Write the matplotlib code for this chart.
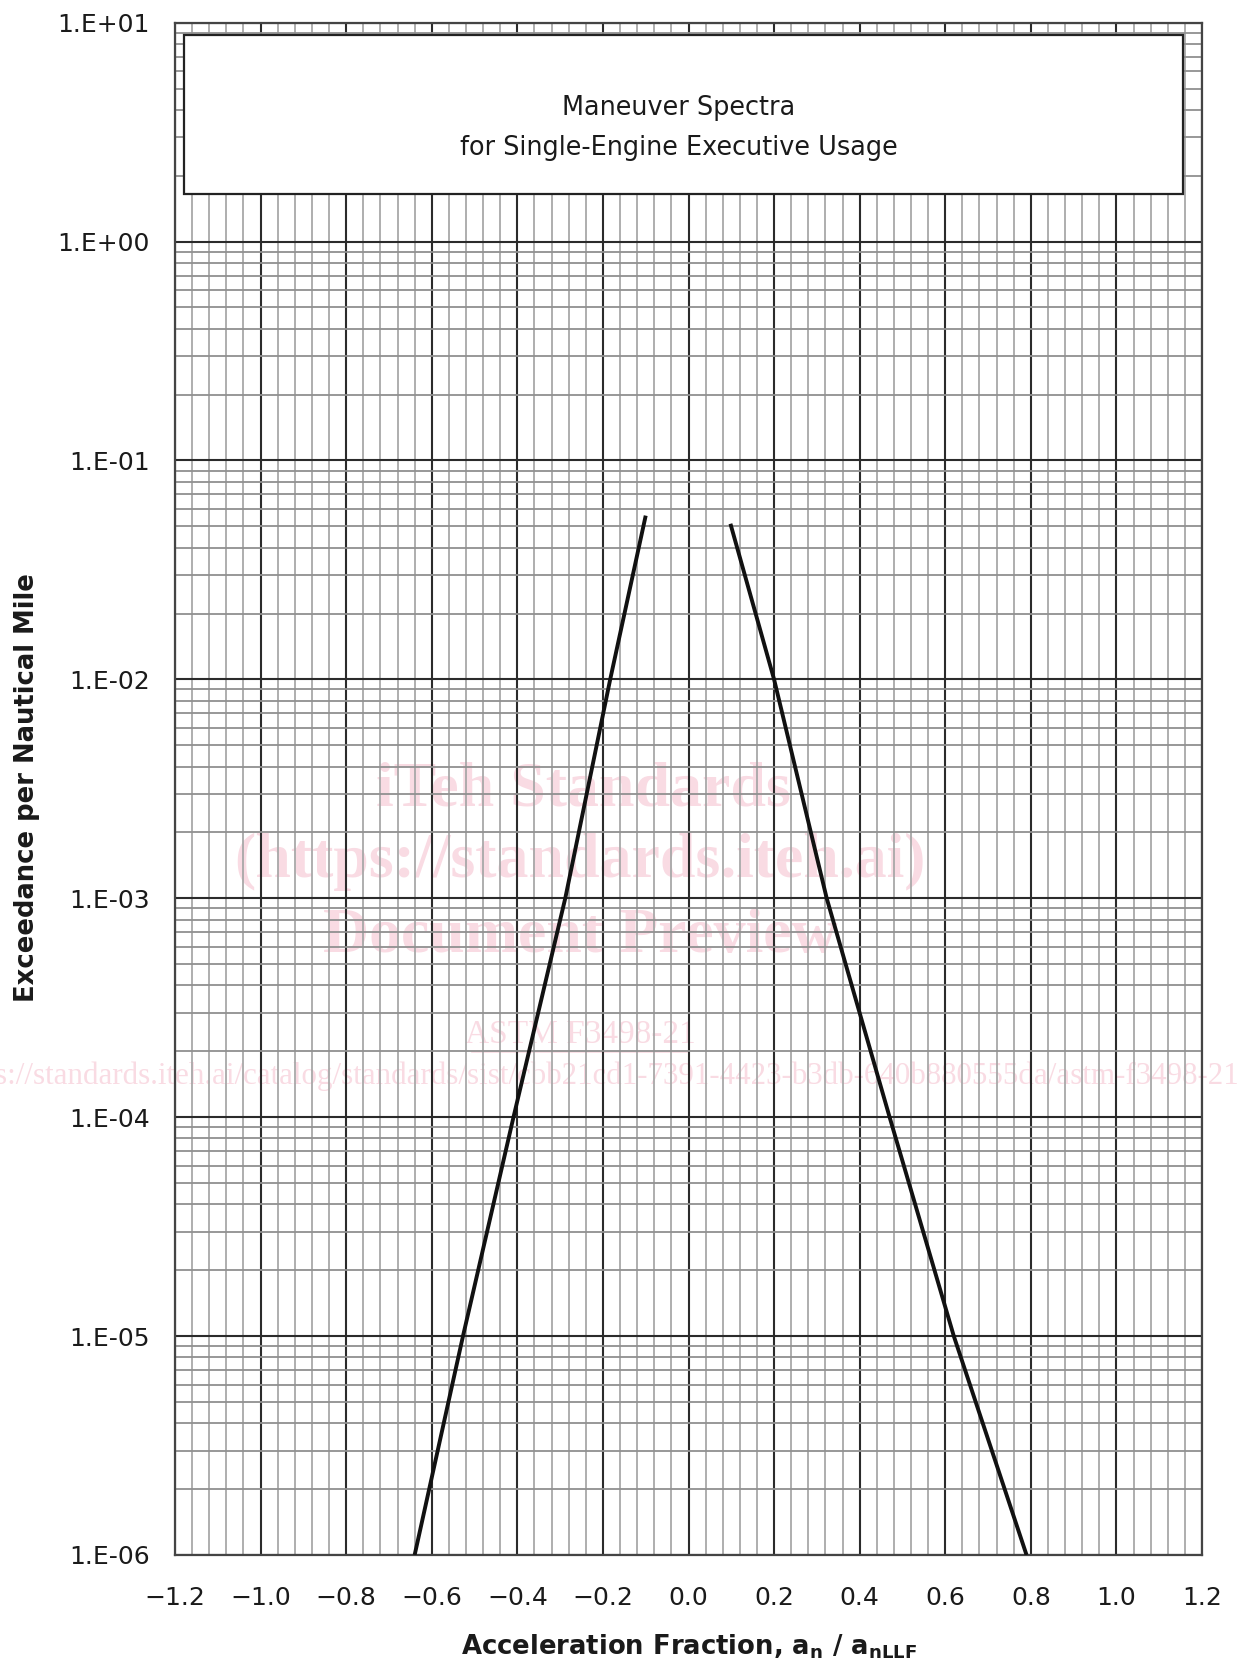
import matplotlib
matplotlib.use("Agg")
import matplotlib.pyplot as plt
from matplotlib.patches import Rectangle
from matplotlib.ticker import FixedLocator, FixedFormatter, MultipleLocator, LogLocator
import numpy as np

plt.rcParams['font.family'] = ['DejaVu Sans']
plt.rcParams['mathtext.default'] = 'bf'

# ---- data ----
left_x = [-0.64, -0.527, -0.409, -0.288, -0.183, -0.10]
left_y = [1e-6, 1e-5, 1e-4, 1e-3, 1e-2, 0.056]
right_x = [0.098, 0.20, 0.323, 0.470, 0.62, 0.79]
right_y = [0.0514, 1e-2, 1e-3, 1e-4, 1e-5, 1e-6]

x_ticks = [-1.2, -1.0, -0.8, -0.6, -0.4, -0.2, 0.0, 0.2, 0.4, 0.6, 0.8, 1.0, 1.2]
y_ticks = [1e-6, 1e-5, 1e-4, 1e-3, 1e-2, 1e-1, 1e0, 1e1]
y_tick_labels = ["1.E-06", "1.E-05", "1.E-04", "1.E-03", "1.E-02", "1.E-01", "1.E+00", "1.E+01"]

title_lines = ["Maneuver Spectra", "for Single-Engine Executive Usage"]
x_label = r"Acceleration Fraction, $\mathbf{a_n}$ / $\mathbf{a_{nLLF}}$"
y_label = "Exceedance per Nautical Mile"

wm_lines = ["iTeh Standards", "(https://standards.iteh.ai)", "Document Preview"]
wm_std = "ASTM F3498-21"
wm_url = "https://standards.iteh.ai/catalog/standards/sist/cbb21cd1-7391-4423-b3db-640b880555da/astm-f3498-21"

W, H = 1237, 1669
fig = plt.figure(figsize=(W / 100, H / 100), dpi=100)
ax = fig.add_axes([175 / W, 1 - 1555 / H, (1202 - 175) / W, (1555 - 22.7) / H])

ax.set_yscale('log')
ax.set_xlim(-1.2, 1.2)
ax.set_ylim(1e-6, 10)

ax.xaxis.set_major_locator(FixedLocator(x_ticks))
ax.xaxis.set_minor_locator(MultipleLocator(0.04))
ax.yaxis.set_major_locator(FixedLocator(y_ticks))
ax.yaxis.set_major_formatter(FixedFormatter(y_tick_labels))
ax.yaxis.set_minor_locator(LogLocator(base=10, subs=np.arange(2, 10), numticks=20))
ax.yaxis.set_minor_formatter(FixedFormatter([]))
ax.xaxis.set_major_formatter(plt.FuncFormatter(lambda v, p: f"{v:.1f}".replace("-", "\u2212")))

ax.set_axisbelow(True)
ax.grid(which='major', color='#2b2b2b', linewidth=1.5)
ax.grid(which='minor', axis='x', color='#a8a8a8', linewidth=1.3)
ax.grid(which='minor', axis='y', color='#909090', linewidth=1.3)

ax.tick_params(which='both', length=0)
ax.tick_params(axis='y', which='major', labelsize=18, pad=18, colors='#1a1a1a')
ax.tick_params(axis='x', which='major', labelsize=18, pad=22, colors='#1a1a1a')
for s in ax.spines.values():
    s.set_color('#444444')
    s.set_linewidth(1.6)

ax.plot(left_x, left_y, color='#111111', linewidth=2.8, solid_capstyle='butt', zorder=3)
ax.plot(right_x, right_y, color='#111111', linewidth=2.8, solid_capstyle='butt', zorder=3)

# title box
bx0, bx1 = (184.3 - 175) / 1027, (1183 - 175) / 1027
by0, by1 = 1 - (194.3 - 22.7) / 1532, 1 - (35 - 22.7) / 1532
ax.add_patch(Rectangle((bx0, by0), bx1 - bx0, by1 - by0, transform=ax.transAxes,
                       facecolor='white', edgecolor='#222222', linewidth=1.6, zorder=4))
ax.text(0.4907, 1 - (108 - 22.7) / 1532, title_lines[0], transform=ax.transAxes,
        ha='center', va='center', fontsize=18.4, color='#1a1a1a', zorder=5)
ax.text(0.4907, 1 - (148 - 22.7) / 1532, title_lines[1], transform=ax.transAxes,
        ha='center', va='center', fontsize=18.4, color='#1a1a1a', zorder=5)

fig.text(689 / W, 1 - 1647 / H, x_label, ha='center', va='center', fontsize=18.6,
         fontweight='bold', color='#1a1a1a')
fig.text(27 / W, 1 - 788 / H, y_label, ha='center', va='center', rotation=90,
         fontsize=18.6, fontweight='bold', color='#1a1a1a')

# watermark (behind grid)
pink = '#f9dbe3'
wm_y = [790, 862, 937]
wm_x = [583, 580, 580]
for t, xx, yy in zip(wm_lines, wm_x, wm_y):
    ax.text(xx / W, 1 - yy / H, t, transform=fig.transFigure, ha='center', va='center',
            fontsize=46, fontweight='bold', family='Liberation Serif', color=pink,
            zorder=0.3, clip_on=False)
ax.text(580 / W, 1 - 1035 / H, wm_std, transform=fig.transFigure, ha='center', va='center',
        fontsize=24, family='Liberation Serif', color=pink, zorder=0.3, clip_on=False)
ax.plot([(580 - 108) / W, (580 + 108) / W], [1 - 1052 / H, 1 - 1052 / H],
        transform=fig.transFigure, color=pink, linewidth=1.2, zorder=0.3, clip_on=False)
ax.text(1240 / W, 1 - 1076 / H, wm_url, transform=fig.transFigure, ha='right', va='center',
        fontsize=22.3, family='Liberation Serif', color=pink, zorder=0.3, clip_on=False)

fig.savefig("out.png", dpi=100, facecolor='white')
